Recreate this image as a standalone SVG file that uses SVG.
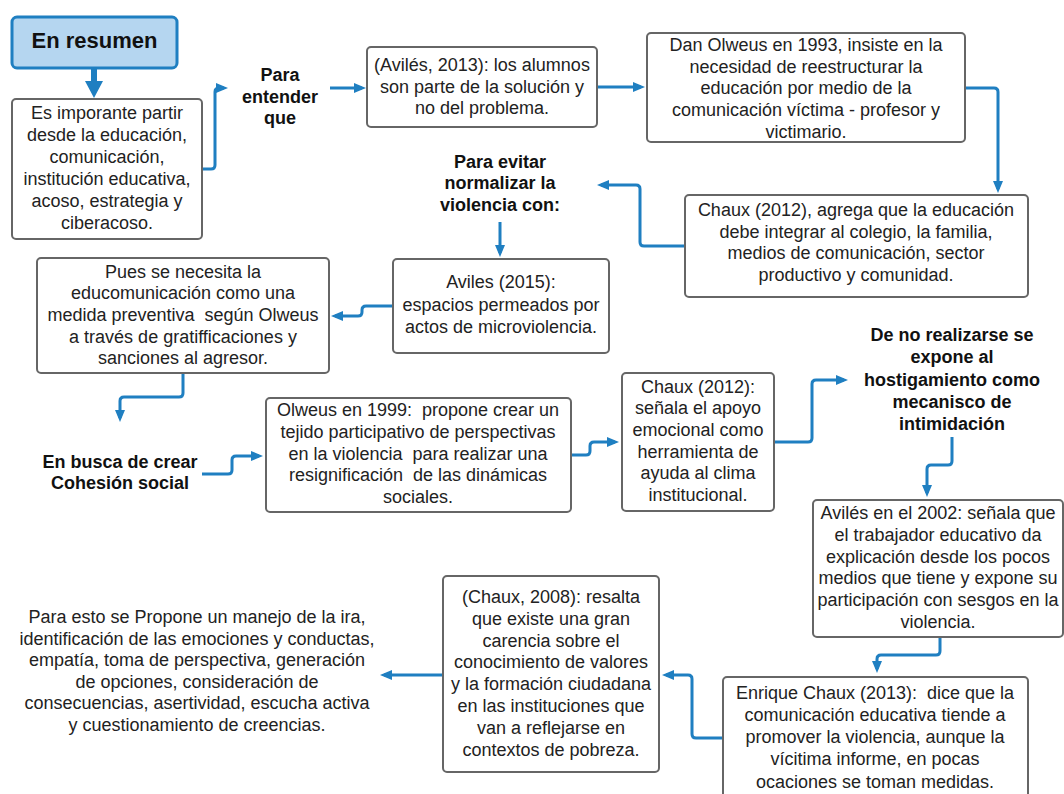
<svg xmlns="http://www.w3.org/2000/svg" width="1064" height="794" viewBox="0 0 1064 794">
<defs>
<style>
.box{fill:#ffffff;stroke:#666666;stroke-width:2}
.t{font-family:"Liberation Sans",Arial,sans-serif;font-size:18px;fill:#222222;text-anchor:middle;white-space:pre}
.b{font-family:"Liberation Sans",Arial,sans-serif;font-size:18px;font-weight:bold;fill:#111111;text-anchor:middle}
.c{fill:none;stroke:#1f7fc1;stroke-width:3;stroke-linejoin:round}
</style>
<marker id="ah" markerUnits="userSpaceOnUse" markerWidth="12" markerHeight="10" refX="8" refY="5" orient="auto">
<path d="M0,0 L12,5 L0,10 z" fill="#1f7fc1"/>
</marker>
</defs>
<rect width="1064" height="794" fill="#ffffff"/>

<g id="connectors">
<path d="M91,68 L97,68 L97,81 L103,81 L94,98 L85,81 L91,81 z" fill="#1f7fc1"/>
<path class="c" marker-end="url(#ah)" d="M202,169 L211,169 Q215,169 215,165 L215,92 Q215,88 219,88 L224,88"/>
<path class="c" marker-end="url(#ah)" d="M330,88 L362,88"/>
<path class="c" marker-end="url(#ah)" d="M597,87 L641,87"/>
<path class="c" marker-end="url(#ah)" d="M965,88 L994,88 Q998,88 998,92 L998,189"/>
<path class="c" marker-end="url(#ah)" d="M685,246 L644,246 Q640,246 640,242 L640,189 Q640,185 636,185 L601,185"/>
<path class="c" marker-end="url(#ah)" d="M500,222 L500,253"/>
<path class="c" marker-end="url(#ah)" d="M393,306 L366,306 Q362,306 362,310 L362,312 Q362,316 358,316 L335,316"/>
<path class="c" marker-end="url(#ah)" d="M183,373 L183,393 Q183,397 179,397 L124,397 Q120,397 120,401 L120,418"/>
<path class="c" marker-end="url(#ah)" d="M202,474 L228,474 Q232,474 232,470 L232,460 Q232,456 236,456 L259,456"/>
<path class="c" marker-end="url(#ah)" d="M571,455 L586,455 Q590,455 590,451 L590,446 Q590,442 594,442 L615,442"/>
<path class="c" marker-end="url(#ah)" d="M774,442 L808,442 Q812,442 812,438 L812,384 Q812,380 816,380 L844,380"/>
<path class="c" marker-end="url(#ah)" d="M952,437 L952,461 Q952,465 948,465 L931,465 Q927,465 927,469 L927,493"/>
<path class="c" marker-end="url(#ah)" d="M940,637 L940,651 Q940,655 936,655 L881,655 Q877,655 877,659 L877,669"/>
<path class="c" marker-end="url(#ah)" d="M723,738 L696,738 Q692,738 692,734 L692,679 Q692,675 688,675 L666,675"/>
<path class="c" marker-end="url(#ah)" d="M443,675 L384,675"/>
</g>

<g id="n-resumen">
<rect x="12" y="17" width="165" height="51" rx="5" fill="#b5d6f0" stroke="#1f7fc1" stroke-width="3"/>
<text class="b" x="94.5" y="48" style="font-size:22px">En resumen</text>
</g>

<g id="n-importante">
<rect class="box" x="12" y="99" width="190" height="140" rx="4"/>
<text class="t"><tspan x="107" y="119">Es imporante partir</tspan><tspan x="107" y="141">desde la educación,</tspan><tspan x="107" y="163">comunicación,</tspan><tspan x="107" y="185">institución educativa,</tspan><tspan x="107" y="207">acoso, estrategia y</tspan><tspan x="107" y="229">ciberacoso.</tspan></text>
</g>

<g id="n-entender">
<text class="b"><tspan x="280" y="81">Para</tspan><tspan x="280" y="103">entender</tspan><tspan x="280" y="124">que</tspan></text>
</g>

<g id="n-aviles2013">
<rect class="box" x="367" y="47" width="230" height="80" rx="4"/>
<text class="t"><tspan x="482" y="71">(Avilés, 2013): los alumnos</tspan><tspan x="482" y="93">son parte de la solución y</tspan><tspan x="482" y="114">no del problema.</tspan></text>
</g>

<g id="n-olweus1993">
<rect class="box" x="647" y="33" width="318" height="109" rx="4"/>
<text class="t"><tspan x="806" y="51">Dan Olweus en 1993, insiste en la</tspan><tspan x="806" y="73">necesidad de reestructurar la</tspan><tspan x="806" y="94">educación por medio de la</tspan><tspan x="806" y="116">comunicación víctima - profesor y</tspan><tspan x="806" y="138">victimario.</tspan></text>
</g>

<g id="n-chaux2012a">
<rect class="box" x="685" y="195" width="343" height="102" rx="4"/>
<text class="t"><tspan x="856" y="216">Chaux (2012), agrega que la educación</tspan><tspan x="856" y="238">debe integrar al colegio, la familia,</tspan><tspan x="856" y="259">medios de comunicación, sector</tspan><tspan x="856" y="281">productivo y comunidad.</tspan></text>
</g>

<g id="n-evitar">
<text class="b"><tspan x="500" y="168">Para evitar</tspan><tspan x="500" y="189">normalizar la</tspan><tspan x="500" y="211">violencia con:</tspan></text>
</g>

<g id="n-aviles2015">
<rect class="box" x="393" y="259" width="216" height="94" rx="4"/>
<text class="t"><tspan x="501" y="288">Aviles (2015):</tspan><tspan x="501" y="311">espacios permeados por</tspan><tspan x="501" y="333">actos de microviolencia.</tspan></text>
</g>

<g id="n-pues">
<rect class="box" x="37" y="258" width="292" height="115" rx="4"/>
<text class="t"><tspan x="183" y="278">Pues se necesita la</tspan><tspan x="183" y="299">educomunicación como una</tspan><tspan x="183" y="321">medida preventiva  según Olweus</tspan><tspan x="183" y="343">a través de gratifficaciones y</tspan><tspan x="183" y="364">sanciones al agresor.</tspan></text>
</g>

<g id="n-cohesion">
<text class="b"><tspan x="120" y="468">En busca de crear</tspan><tspan x="120" y="489">Cohesión social</tspan></text>
</g>

<g id="n-olweus1999">
<rect class="box" x="266" y="398" width="305" height="114" rx="4"/>
<text class="t"><tspan x="418" y="416">Olweus en 1999:  propone crear un</tspan><tspan x="418" y="438">tejido participativo de perspectivas</tspan><tspan x="418" y="460">en la violencia  para realizar una</tspan><tspan x="418" y="481">resignificación  de las dinámicas</tspan><tspan x="418" y="503">sociales.</tspan></text>
</g>

<g id="n-chaux2012b">
<rect class="box" x="622" y="373" width="152" height="138" rx="4"/>
<text class="t"><tspan x="698" y="393">Chaux (2012):</tspan><tspan x="698" y="414">señala el apoyo</tspan><tspan x="698" y="436">emocional como</tspan><tspan x="698" y="458">herramienta de</tspan><tspan x="698" y="479">ayuda al clima</tspan><tspan x="698" y="501">institucional.</tspan></text>
</g>

<g id="n-norealizarse">
<text class="b"><tspan x="952" y="341">De no realizarse se</tspan><tspan x="952" y="363">expone al</tspan><tspan x="952" y="386">hostigamiento como</tspan><tspan x="952" y="408">mecanisco de</tspan><tspan x="952" y="430">intimidación</tspan></text>
</g>

<g id="n-aviles2002">
<rect class="box" x="813" y="500" width="250" height="137" rx="4"/>
<text class="t"><tspan x="938" y="519">Avilés en el 2002: señala que</tspan><tspan x="938" y="541">el trabajador educativo da</tspan><tspan x="938" y="563">explicación desde los pocos</tspan><tspan x="938" y="584">medios que tiene y expone su</tspan><tspan x="938" y="606">participación con sesgos en la</tspan><tspan x="938" y="628">violencia.</tspan></text>
</g>

<g id="n-chaux2013">
<rect class="box" x="723" y="677" width="305" height="130" rx="4"/>
<text class="t"><tspan x="875" y="699">Enrique Chaux (2013):  dice que la</tspan><tspan x="875" y="721">comunicación educativa tiende a</tspan><tspan x="875" y="743">promover la violencia, aunque la</tspan><tspan x="875" y="765">vícitima informe, en pocas</tspan><tspan x="875" y="788">ocaciones se toman medidas.</tspan></text>
</g>

<g id="n-chaux2008">
<rect class="box" x="443" y="576" width="216" height="196" rx="4"/>
<text class="t"><tspan x="551" y="603">(Chaux, 2008): resalta</tspan><tspan x="551" y="625">que existe una gran</tspan><tspan x="551" y="647">carencia sobre el</tspan><tspan x="551" y="668">conocimiento de valores</tspan><tspan x="551" y="690">y la formación ciudadana</tspan><tspan x="551" y="712">en las instituciones que</tspan><tspan x="551" y="734">van a reflejarse en</tspan><tspan x="551" y="756">contextos de pobreza.</tspan></text>
</g>

<g id="n-propone">
<text class="t"><tspan x="197" y="623">Para esto se Propone un manejo de la ira,</tspan><tspan x="197" y="645">identificación de las emociones y conductas,</tspan><tspan x="197" y="666">empatía, toma de perspectiva, generación</tspan><tspan x="197" y="688">de opciones, consideración de</tspan><tspan x="197" y="709">consecuencias, asertividad, escucha activa</tspan><tspan x="197" y="731">y cuestionamiento de creencias.</tspan></text>
</g>
</svg>
